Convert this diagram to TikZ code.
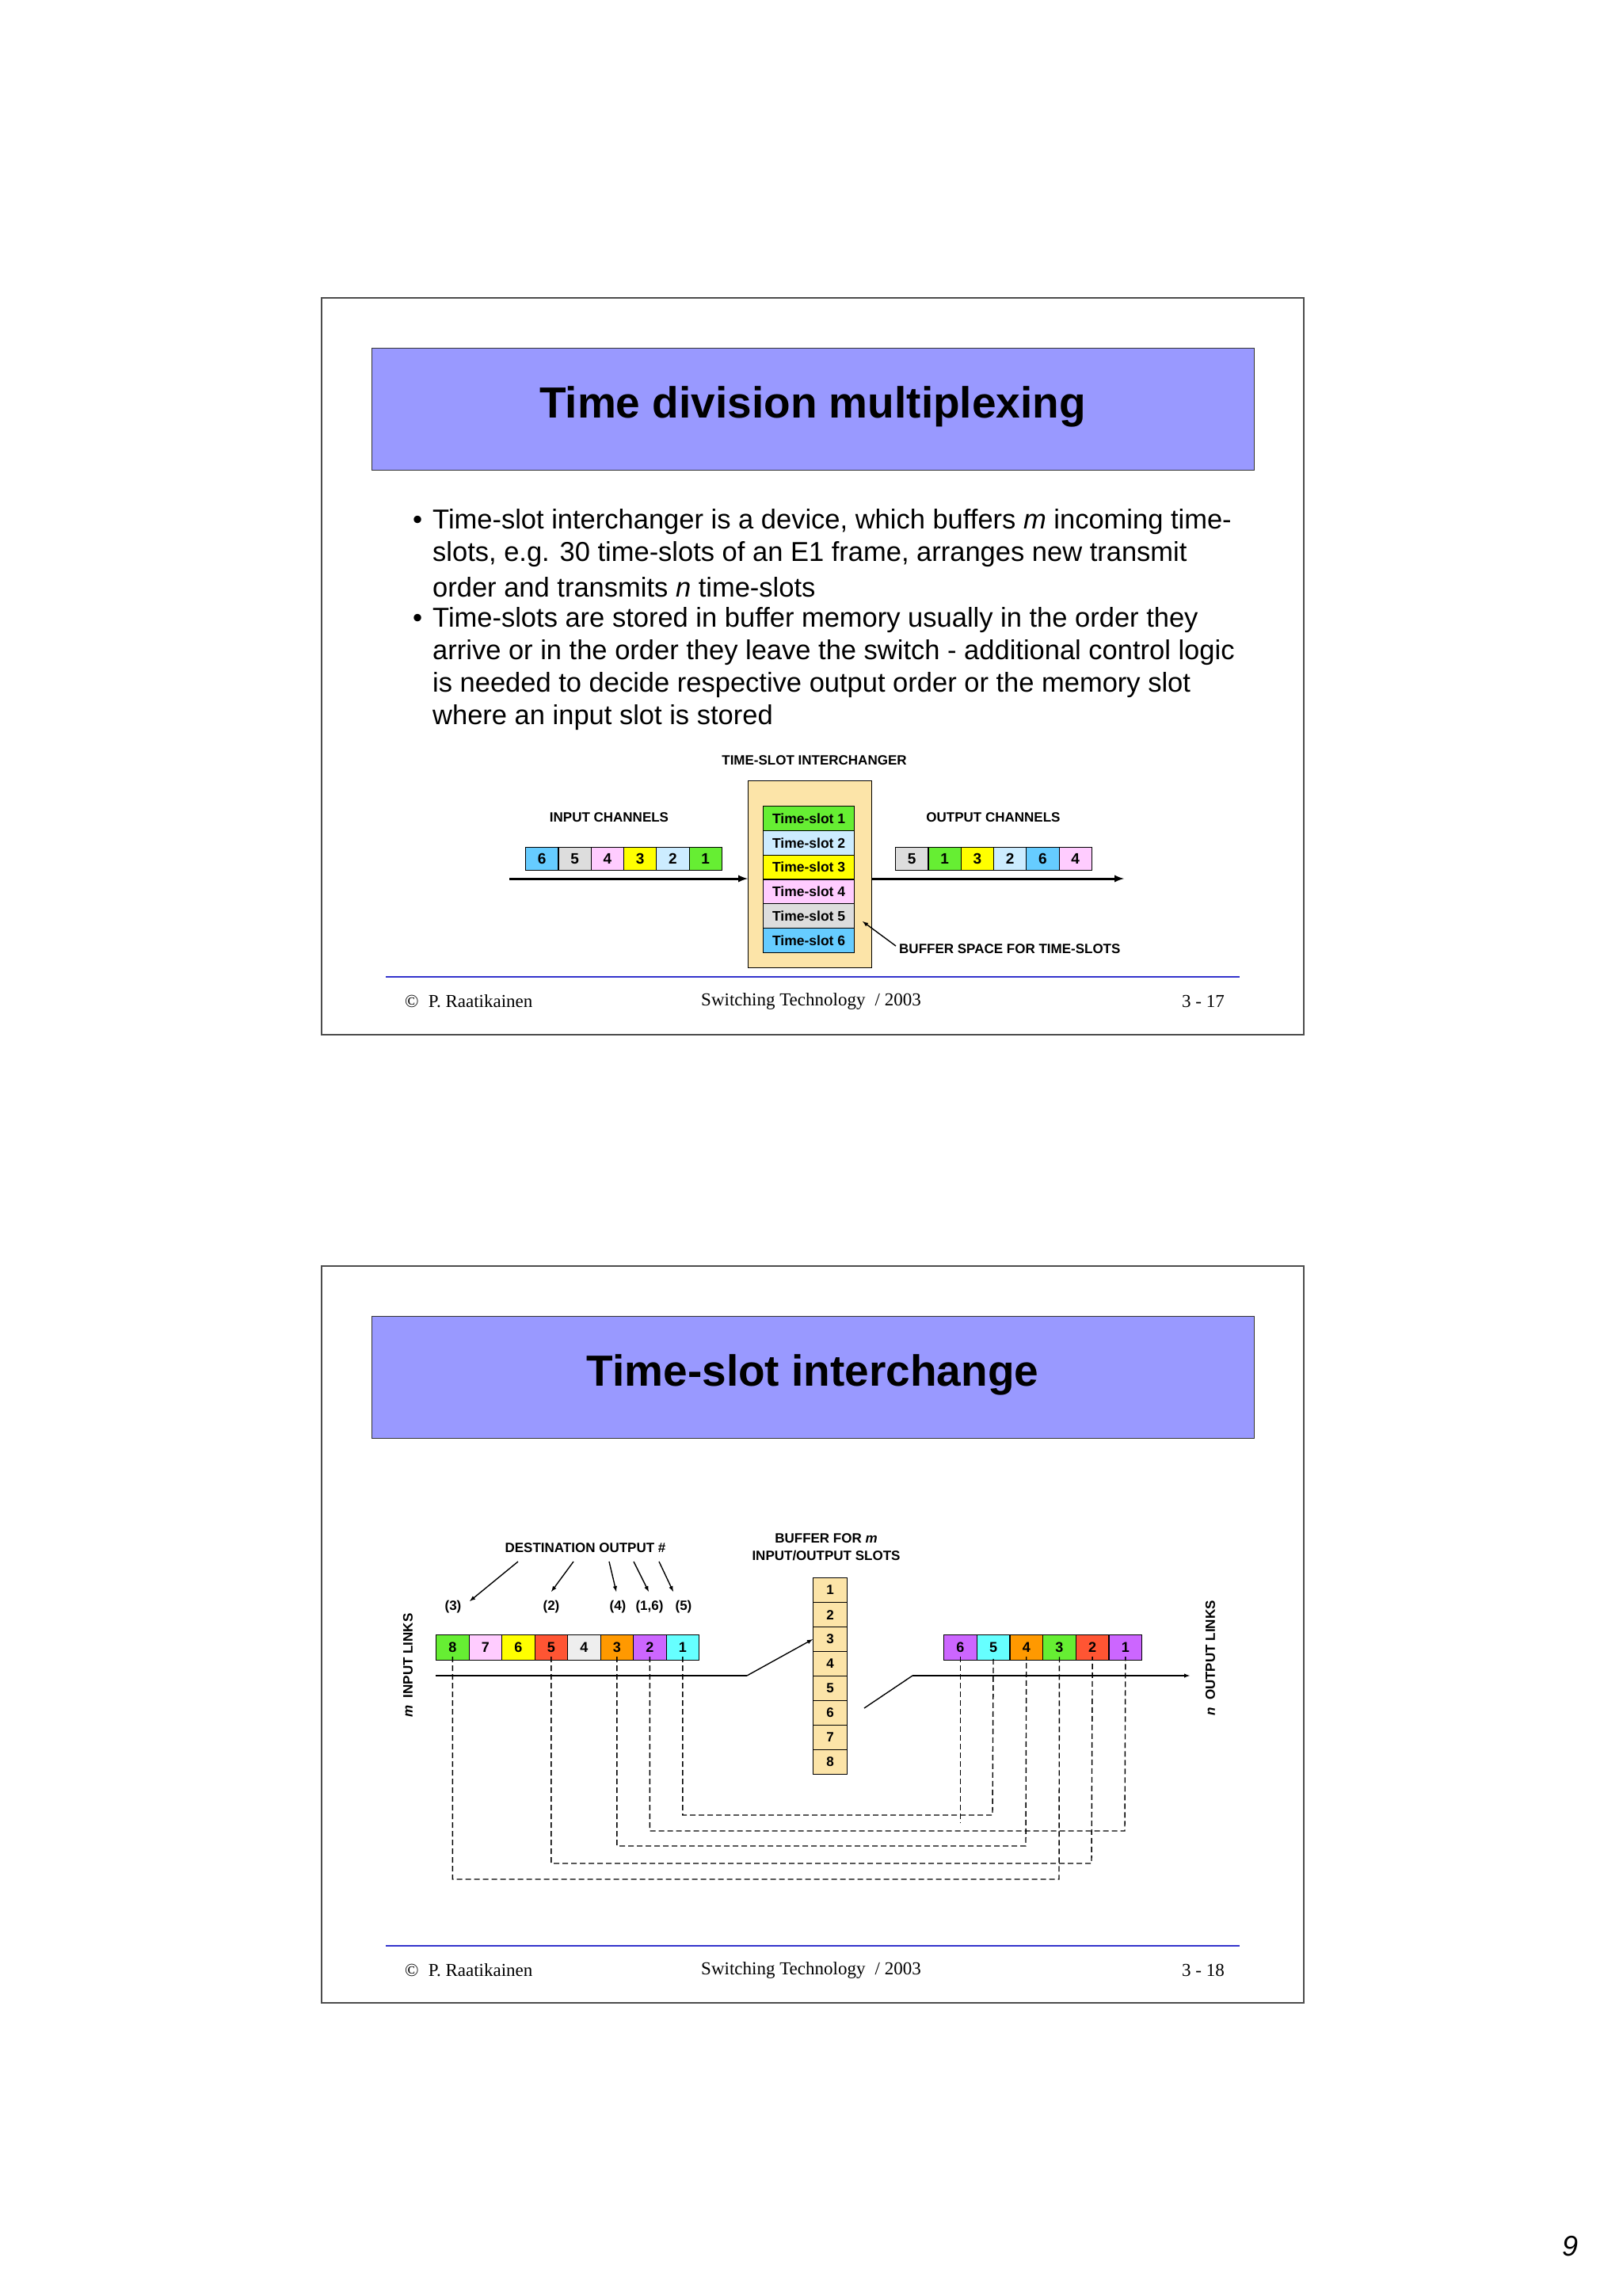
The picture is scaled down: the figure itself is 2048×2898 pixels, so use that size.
\documentclass[tikz,border=0pt]{standalone}
\usepackage{fontspec}
\setmainfont{Liberation Serif}
\setsansfont{Liberation Sans}
\begin{document}
\begin{tikzpicture}[x=1pt,y=-1pt,
  frame/.style={draw=black!70,line width=1.5pt},
  titlebox/.style={draw=black!80,fill=titleblue,line width=1.2pt},
  titletext/.style={font=\sffamily\bfseries\fontsize{55}{60}\selectfont},
  bul/.style={anchor=west,inner sep=0,font=\sffamily\fontsize{34.5}{38}\selectfont},
  lab/.style={font=\sffamily\bfseries\fontsize{17}{19}\selectfont,inner sep=0},
  cellA/.style={draw,line width=1.2pt,minimum width=41.3pt,minimum height=29pt,inner sep=0,anchor=north west,font=\sffamily\bfseries\fontsize{19}{19}\selectfont},
  slotA/.style={draw,line width=1.2pt,minimum width=115pt,minimum height=30.8pt,inner sep=0,anchor=north west,font=\sffamily\bfseries\fontsize{17.5}{17.5}\selectfont},
  cellB/.style={draw,line width=1.2pt,minimum width=41.5pt,minimum height=32pt,inner sep=0,anchor=north west,font=\sffamily\bfseries\fontsize{18}{18}\selectfont},
  bufB/.style={draw,line width=1.2pt,fill=bufyel,minimum width=43pt,minimum height=31pt,inner sep=0,anchor=north west,font=\sffamily\bfseries\fontsize{17}{17}\selectfont},
  foot/.style={font=\rmfamily\fontsize{23}{25}\selectfont,inner sep=0},
  blueline/.style={draw=linkblue,line width=1.5pt},
  dl/.style={dash pattern=on 7pt off 4pt,line width=1.4pt},
  bigarrow/.style={-latex,line width=3pt},
  thinarrow/.style={-latex,line width=1.4pt}]
\definecolor{titleblue}{HTML}{9999FF}
\definecolor{linkblue}{HTML}{3333CC}
\definecolor{bufyel}{HTML}{FCE4A8}
\definecolor{cgreen}{HTML}{66EE33}
\definecolor{clblue}{HTML}{CCECFF}
\definecolor{cyel}{HTML}{FFFF00}
\definecolor{cpink}{HTML}{FFCCFF}
\definecolor{cgray}{HTML}{DDDDDD}
\definecolor{cblue}{HTML}{66CCFF}
\definecolor{cred}{HTML}{FF5533}
\definecolor{corange}{HTML}{FF9900}
\definecolor{cpurple}{HTML}{CC66FF}
\definecolor{ccyan}{HTML}{66FFFF}
\definecolor{clgray}{HTML}{EEEEEE}
\fill[white] (0,0) rectangle (2048,2898);
% ---------- slide 1 ----------
\draw[frame] (406,376) rectangle (1646,1306);
\node[titlebox,minimum width=1114pt,minimum height=154pt,anchor=north west] (t1) at (469,439) {};
\node[titletext] (t1t) at (1026,513) {Time division multiplexing};
\node[bul] (b1) at (521,659) {•};
\node[bul] (l1) at (546,659) {Time-slot interchanger is a device, which buffers \textit{m} incoming time-};
\node[bul] (l2) at (546,700) {slots, e.g. 30 time-slots of an E1 frame, arranges new transmit};
\node[bul] (l3) at (546,741) {order and transmits \textit{n} time-slots};
\node[bul] (b2) at (521,783) {•};
\node[bul] (l4) at (546,783) {Time-slots are stored in buffer memory usually in the order they};
\node[bul] (l5) at (546,824) {arrive or in the order they leave the switch - additional control logic};
\node[bul] (l6) at (546,865) {is needed to decide respective output order or the memory slot};
\node[bul] (l7) at (546,906) {where an input slot is stored};
\node[lab] (tsi) at (1028,960) {TIME-SLOT INTERCHANGER};
\node[lab] (inch) at (769,1032) {INPUT CHANNELS};
\node[lab] (outch) at (1254,1032) {OUTPUT CHANNELS};
\node[draw,line width=1.2pt,fill=bufyel,minimum width=156pt,minimum height=236pt,inner sep=0,anchor=north west] (ybox) at (944,985) {};
\foreach \t/\c [count=\i from 0] in {1/cgreen,2/clblue,3/cyel,4/cpink,5/cgray,6/cblue}
  \node[slotA,fill=\c] (ts\t) at (963,1017+30.8*\i) {Time-slot \t};
\foreach \t/\c [count=\i from 0] in {6/cblue,5/cgray,4/cpink,3/cyel,2/clblue,1/cgreen}
  \node[cellA,fill=\c] (in\t) at (663+41.3*\i,1069) {\t};
\foreach \t/\c [count=\i from 0] in {5/cgray,1/cgreen,3/cyel,2/clblue,6/cblue,4/cpink}
  \node[cellA,fill=\c] (out\t) at (1130+41.3*\i,1069) {\t};
\coordinate (ia) at (643,1109);
\coordinate (ob) at (1419,1109);
\draw[bigarrow] (ia) -- (ybox.west |- ia);
\draw[bigarrow] (ybox.east |- ob) -- (ob);
\node[lab,anchor=west] (bsp) at (1135,1198) {BUFFER SPACE FOR TIME-SLOTS};
\coordinate (bspa) at (1131,1194);
\coordinate (bspb) at (1089,1163);
\draw[thinarrow] (bspa) -- (bspb);
\draw[blueline] (487,1233) -- (1565,1233);
\node[foot,anchor=west] (c1) at (511,1264) {© \;P. Raatikainen};
\node[foot] (s1) at (1024,1264) {Switching Technology \;/ 2003};
\node[foot,anchor=east] (p1) at (1546,1264) {3 - 17};
% ---------- slide 2 ----------
\draw[frame] (406,1598) rectangle (1646,2528);
\node[titlebox,minimum width=1114pt,minimum height=154pt,anchor=north west] (t2) at (469,1661) {};
\node[titletext] (t2t) at (1026,1735) {Time-slot interchange};
\node[lab] (dest) at (739,1954) {DESTINATION OUTPUT \#};
\node[lab,align=center] (bufm) at (1043,1953) {BUFFER FOR \textit{m}\\[3pt]INPUT/OUTPUT SLOTS};
\node[lab] (d3) at (572,2028) {(3)};
\node[lab] (d2) at (696,2028) {(2)};
\node[lab] (d4) at (780,2028) {(4)};
\node[lab] (d16) at (820,2028) {(1,6)};
\node[lab] (d5) at (863,2028) {(5)};
\draw[thinarrow] (654,1971) -- (593,2021);
\draw[thinarrow] (724,1971) -- (696,2009);
\draw[thinarrow] (769,1971) -- (778,2009);
\draw[thinarrow] (800,1971) -- (819,2009);
\draw[thinarrow] (832,1971) -- (850,2009);
\foreach \t/\c [count=\i from 0] in {8/cgreen,7/cpink,6/cyel,5/cred,4/clgray,3/corange,2/cpurple,1/ccyan}
  \node[cellB,fill=\c] (a\t) at (550+41.5*\i,2063) {\t};
\foreach \t/\c [count=\i from 0] in {6/cpurple,5/ccyan,4/corange,3/cgreen,2/cred,1/cpurple}
  \node[cellB,fill=\c] (o\t) at (1191+41.7*\i,2063) {\t};
\foreach \t [count=\i from 0] in {1,...,8}
  \node[bufB] (m\t) at (1026,1991+31*\i) {\t};
\node[lab,rotate=90] (mil) at (515,2102) {\textit{m} \;INPUT LINKS};
\node[lab,rotate=90] (nol) at (1528,2093) {\textit{n} \;OUTPUT LINKS};
\coordinate (il0) at (550,2115);
\coordinate (il1) at (943,2115);
\draw[line width=1.4pt] (il0) -- (il1);
\draw[thinarrow] (il1) -- (m3.west);
\coordinate (ol0) at (1091,2156);
\coordinate (ol1) at (1152,2115);
\coordinate (ol2) at (1502,2115);
\draw[line width=1.4pt] (ol0) -- (ol1);
\draw[thinarrow] (ol1) -- (ol2);
% dashed routes
\draw[dl] ([yshift=5pt]a1.south) |- (1253,2291) -- ([yshift=5pt]o5.south);
\draw[dl] ([yshift=5pt]o6.south) -- (o6.south |- 0,2301);
\draw[dl] ([yshift=5pt]a2.south) |- (1420,2311) -- ([yshift=5pt]o1.south);
\draw[dl] ([yshift=5pt]a3.south) |- (1295,2330) -- ([yshift=5pt]o4.south);
\draw[dl] ([yshift=5pt]a5.south) |- (1378,2352) -- ([yshift=5pt]o2.south);
\draw[dl] ([yshift=5pt]a8.south) |- (1337,2372) -- ([yshift=5pt]o3.south);
\draw[blueline] (487,2456) -- (1565,2456);
\node[foot,anchor=west] (c2) at (511,2487) {© \;P. Raatikainen};
\node[foot] (s2) at (1024,2487) {Switching Technology \;/ 2003};
\node[foot,anchor=east] (p2) at (1546,2487) {3 - 18};
\node[font=\sffamily\itshape\fontsize{36}{40}\selectfont] (pg) at (1982,2835) {9};
\end{tikzpicture}
\end{document}
